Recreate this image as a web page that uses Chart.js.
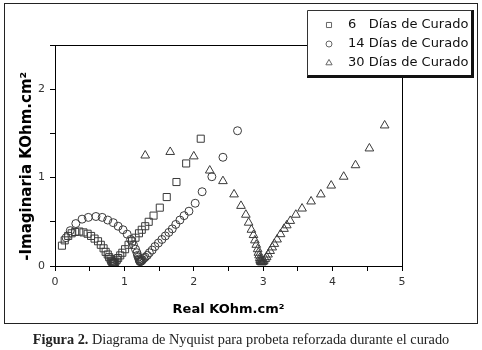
<!DOCTYPE html>
<html><head><meta charset="utf-8">
<script src="https://cdn.jsdelivr.net/npm/chart.js@4/dist/chart.umd.min.js"></script>
<style>
html,body{margin:0;padding:0;background:#fff;width:482px;height:350px;overflow:hidden}
#frame{position:absolute;left:4px;top:3px;width:474px;height:321px;border:1px solid #222;box-sizing:border-box}
#c{position:absolute;left:0;top:0}
#cap{position:absolute;left:0;top:331px;width:482px;text-align:center;font-family:"Liberation Serif",serif;font-size:14.3px;color:#222;white-space:nowrap}
</style></head>
<body>
<div id="frame"></div>
<canvas id="c" width="482" height="350"></canvas>
<div id="cap"><b>Figura 2.</b> Diagrama de Nyquist para probeta reforzada durante el curado</div>
<script>
const seriesLabels = ['6   Días de Curado', '14 Días de Curado', '30 Días de Curado'];
const xTickLabels = [0, 1, 2, 3, 4, 5];
const yTickLabels = [0, 1, 2];
const xTitle = 'Real KOhm.cm²';
const yTitle = ' -Imaginaria KOhm.cm²';

const d6x = [0.10,0.14,0.19,0.24,0.29,0.35,0.41,0.47,0.52,0.57,0.62,0.66,0.70,0.73,0.76,0.78,0.80,0.81,0.82,0.83,0.835,0.84,0.845,0.85,0.86,0.87,0.89,0.91,0.94,0.97,1.01,1.06,1.11,1.16,1.21,1.25,1.30,1.35,1.42,1.51,1.61,1.75,1.89,2.10];
const d6y = [0.23,0.29,0.34,0.37,0.385,0.39,0.38,0.365,0.34,0.31,0.28,0.24,0.20,0.16,0.13,0.10,0.08,0.06,0.05,0.04,0.035,0.03,0.03,0.035,0.04,0.05,0.07,0.09,0.12,0.15,0.19,0.24,0.28,0.32,0.37,0.41,0.45,0.50,0.57,0.66,0.78,0.95,1.16,1.44];

const d14x = [0.16,0.22,0.30,0.39,0.48,0.59,0.68,0.76,0.84,0.91,0.98,1.04,1.09,1.13,1.16,1.18,1.19,1.20,1.21,1.215,1.22,1.225,1.23,1.24,1.25,1.26,1.28,1.30,1.33,1.36,1.40,1.44,1.49,1.54,1.59,1.64,1.69,1.74,1.80,1.86,1.93,2.02,2.12,2.26,2.42,2.63];
const d14y = [0.32,0.40,0.48,0.53,0.55,0.56,0.55,0.52,0.49,0.45,0.41,0.36,0.30,0.24,0.19,0.15,0.12,0.10,0.08,0.065,0.055,0.05,0.05,0.055,0.06,0.07,0.085,0.10,0.12,0.15,0.18,0.22,0.26,0.30,0.34,0.38,0.42,0.47,0.52,0.57,0.62,0.71,0.84,1.01,1.23,1.53];

const d30x = [1.30,1.66,2.00,2.23,2.42,2.58,2.68,2.75,2.79,2.83,2.86,2.88,2.90,2.92,2.93,2.94,2.95,2.955,2.96,2.965,2.97,2.98,2.99,3.00,3.01,3.03,3.05,3.07,3.10,3.13,3.16,3.20,3.25,3.30,3.34,3.39,3.47,3.56,3.69,3.83,3.98,4.16,4.33,4.53,4.75];
const d30y = [1.25,1.29,1.24,1.08,0.96,0.81,0.68,0.58,0.49,0.41,0.35,0.29,0.24,0.19,0.15,0.12,0.09,0.07,0.06,0.05,0.045,0.04,0.045,0.05,0.06,0.08,0.10,0.13,0.17,0.21,0.25,0.30,0.36,0.42,0.46,0.51,0.58,0.65,0.73,0.81,0.91,1.01,1.14,1.33,1.59];

const pts = (xs, ys) => xs.map((x, i) => ({x: x, y: ys[i]}));

const frameBox = {
  id: 'frameBox',
  beforeDatasetsDraw(chart) {
    const a = chart.chartArea, ctx = chart.ctx;
    ctx.save();
    ctx.strokeStyle = '#000';
    ctx.lineWidth = 1;
    ctx.beginPath();
    ctx.moveTo(Math.round(a.left) + 0.5, Math.round(a.top) + 0.5);
    ctx.lineTo(Math.round(a.right) + 0.5, Math.round(a.top) + 0.5);
    ctx.lineTo(Math.round(a.right) + 0.5, Math.round(a.bottom) + 0.5);
    ctx.stroke();
    ctx.restore();
  }
};

const boxLegend = {
  id: 'boxLegend',
  afterDraw(chart) {
    const ctx = chart.ctx;
    const L = 307, T = 10, R = 472, B = 76;
    ctx.save();
    ctx.fillStyle = '#fff';
    ctx.fillRect(L, T, R - L, B - T);
    ctx.fillStyle = '#111';
    ctx.fillRect(R - 1, T, 3, B - T + 2);
    ctx.fillRect(L, B - 1, R - L + 2, 3);
    ctx.strokeStyle = '#333';
    ctx.lineWidth = 1;
    ctx.beginPath();
    ctx.moveTo(L + 0.5, B);
    ctx.lineTo(L + 0.5, T + 0.5);
    ctx.lineTo(R, T + 0.5);
    ctx.stroke();
    const rows = [25, 44, 63];
    chart.data.datasets.forEach((ds, i) => {
      const y = rows[i];
      ctx.strokeStyle = '#666';
      ctx.fillStyle = 'rgba(0,0,0,0)';
      ctx.lineWidth = 1;
      Chart.helpers.drawPoint(ctx, {pointStyle: ds.pointStyle, radius: ds.pointStyle === 'circle' ? 3 : 3.6, borderWidth: 1}, 329, y);
      ctx.fillStyle = '#111';
      ctx.font = '13px "DejaVu Sans"';
      ctx.textBaseline = 'middle';
      ctx.textAlign = 'left';
      ctx.fillText(ds.label, 348, y);
    });
    ctx.restore();
  }
};

const mk = (label, data, style, r) => ({
  label: label, data: data, showLine: false,
  pointStyle: style, pointRadius: r, pointHoverRadius: r,
  pointBorderWidth: 1, borderColor: '#3a3a3a', backgroundColor: 'rgba(0,0,0,0)'
});

new Chart(document.getElementById('c'), {
  type: 'scatter',
  data: {
    datasets: [
      mk(seriesLabels[0], pts(d6x, d6y), 'rect', 5),
      mk(seriesLabels[1], pts(d14x, d14y), 'circle', 4),
      mk(seriesLabels[2], pts(d30x, d30y), 'triangle', 5)
    ]
  },
  options: {
    responsive: false,
    animation: false,
    devicePixelRatio: 1,
    layout: {padding: {left: 18, top: 45, right: 80, bottom: 33}},
    plugins: {legend: {display: false}, tooltip: {enabled: false}},
    scales: {
      x: {
        type: 'linear', min: 0, max: 5,
        afterFit: s => { s.height = 51; },
        border: {display: true, color: '#000', width: 1},
        grid: {drawOnChartArea: false, drawTicks: true, tickLength: 5, color: '#000'},
        ticks: {stepSize: 0.5, autoSkip: false, maxRotation: 0, padding: 5, color: '#333',
          font: {family: '"DejaVu Sans"', size: 11},
          callback: v => xTickLabels.includes(v) ? String(v) : ''},
        title: {display: true, text: xTitle, color: '#000', padding: 0,
          font: {family: '"DejaVu Sans"', size: 13, weight: 'bold', lineHeight: 1.2}}
      },
      y: {
        type: 'linear', min: 0, max: 2.5,
        afterFit: s => { s.width = 37; },
        border: {display: true, color: '#000', width: 1},
        grid: {drawOnChartArea: false, drawTicks: true, tickLength: 5, color: '#000'},
        ticks: {stepSize: 0.5, autoSkip: false, padding: 5, color: '#333',
          font: {family: '"DejaVu Sans"', size: 11},
          callback: v => yTickLabels.includes(v) ? String(v) : ''},
        title: {display: true, text: yTitle, color: '#000', padding: 0, align: 'start',
          font: {family: '"DejaVu Sans"', size: 15, weight: 'bold', lineHeight: 1.2}}
      }
    }
  },
  plugins: [frameBox, boxLegend]
});
</script>
</body></html>
